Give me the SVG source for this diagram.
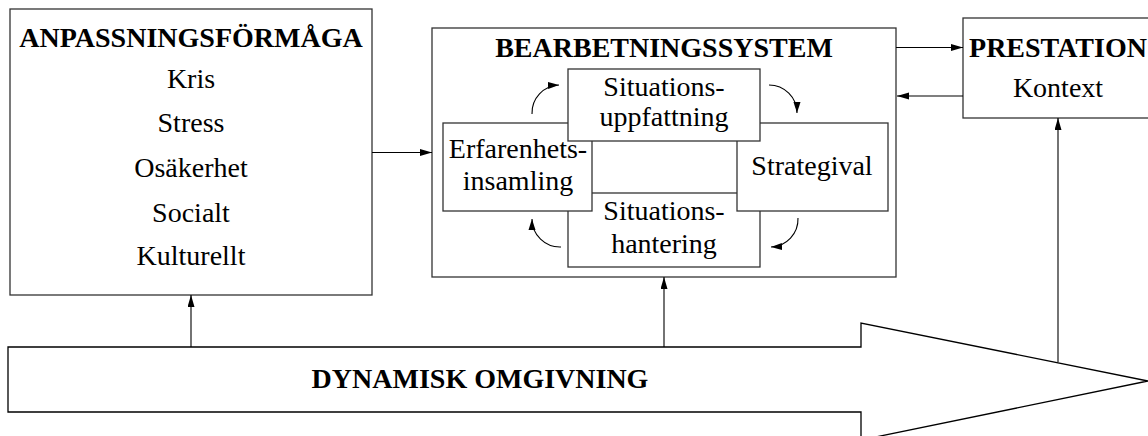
<svg xmlns="http://www.w3.org/2000/svg" width="1148" height="436" viewBox="0 0 1148 436">
<style>
.box{fill:#fff;stroke:#333;stroke-width:1.3}
.t{font-family:"Liberation Serif","Times New Roman",serif;font-size:28px;fill:#000;text-anchor:middle}
.b{font-weight:bold}
.con{fill:none;stroke:#000;stroke-width:1.1}
</style>
<defs>
<marker id="ah" markerUnits="userSpaceOnUse" markerWidth="13" markerHeight="8" refX="12" refY="3.5" orient="auto">
<path d="M0,0 L12,3.5 L0,7 z" fill="#000"/>
</marker>
<marker id="ahs" markerUnits="userSpaceOnUse" markerWidth="13" markerHeight="8" refX="11" refY="3.5" orient="auto">
<path d="M0,0 L11,3.5 L0,7 z" fill="#000"/>
</marker>
</defs>
<g id="dynamisk-omgivning">
<polygon class="box" points="8,347 861,347 861,323 1148,381 861,440 861,412 8,412" style="stroke:#000"/>
<text class="t b" x="480" y="388">DYNAMISK OMGIVNING</text>
</g>
<g id="anpassningsformaga">
<rect class="box" x="10" y="9" width="362" height="286"/>
<text class="t b" x="191" y="47">ANPASSNINGSFÖRMÅGA</text>
<text class="t" x="191" y="88">Kris</text>
<text class="t" x="191" y="132">Stress</text>
<text class="t" x="191" y="177">Osäkerhet</text>
<text class="t" x="191" y="222">Socialt</text>
<text class="t" x="191" y="265">Kulturellt</text>
</g>
<g id="bearbetningssystem">
<rect class="box" x="432" y="28" width="464" height="249"/>
<text class="t b" x="664" y="57">BEARBETNINGSSYSTEM</text>
</g>
<g id="situationshantering">
<rect class="box" x="568" y="193" width="192" height="74"/>
<text class="t" x="664" y="220">Situations-</text>
<text class="t" x="664" y="253">hantering</text>
</g>
<g id="erfarenhetsinsamling">
<rect class="box" x="443" y="123" width="149" height="88"/>
<text class="t" x="518" y="158">Erfarenhets-</text>
<text class="t" x="518" y="190">insamling</text>
</g>
<g id="strategival">
<rect class="box" x="737" y="123" width="151" height="88"/>
<text class="t" x="812" y="175">Strategival</text>
</g>
<g id="situationsuppfattning">
<rect class="box" x="568" y="69" width="192" height="72"/>
<text class="t" x="664" y="96">Situations-</text>
<text class="t" x="664" y="126">uppfattning</text>
</g>
<g id="prestation">
<rect class="box" x="963" y="18" width="190" height="100"/>
<text class="t b" x="1058" y="57">PRESTATION</text>
<text class="t" x="1058" y="97">Kontext</text>
</g>
<g id="connectors">
<path class="con" d="M372,152.5 L432,152.5" marker-end="url(#ah)"/>
<path class="con" d="M896,47.5 L963,47.5" marker-end="url(#ah)"/>
<path class="con" d="M963,96 L897,96" marker-end="url(#ah)"/>
<path class="con" d="M191,347 L191,295" marker-end="url(#ah)"/>
<path class="con" d="M664,347 L664,277" marker-end="url(#ah)"/>
<path class="con" d="M1058,362 L1058,118" marker-end="url(#ah)"/>
<path class="con" d="M532,114 A28 28 0 0 1 559,85" marker-end="url(#ahs)"/>
<path class="con" d="M769,85 A28 28 0 0 1 797,113" marker-end="url(#ahs)"/>
<path class="con" d="M798,218 A28 28 0 0 1 771,247" marker-end="url(#ahs)"/>
<path class="con" d="M561,247 A28 28 0 0 1 532,219" marker-end="url(#ahs)"/>
</g>
</svg>
